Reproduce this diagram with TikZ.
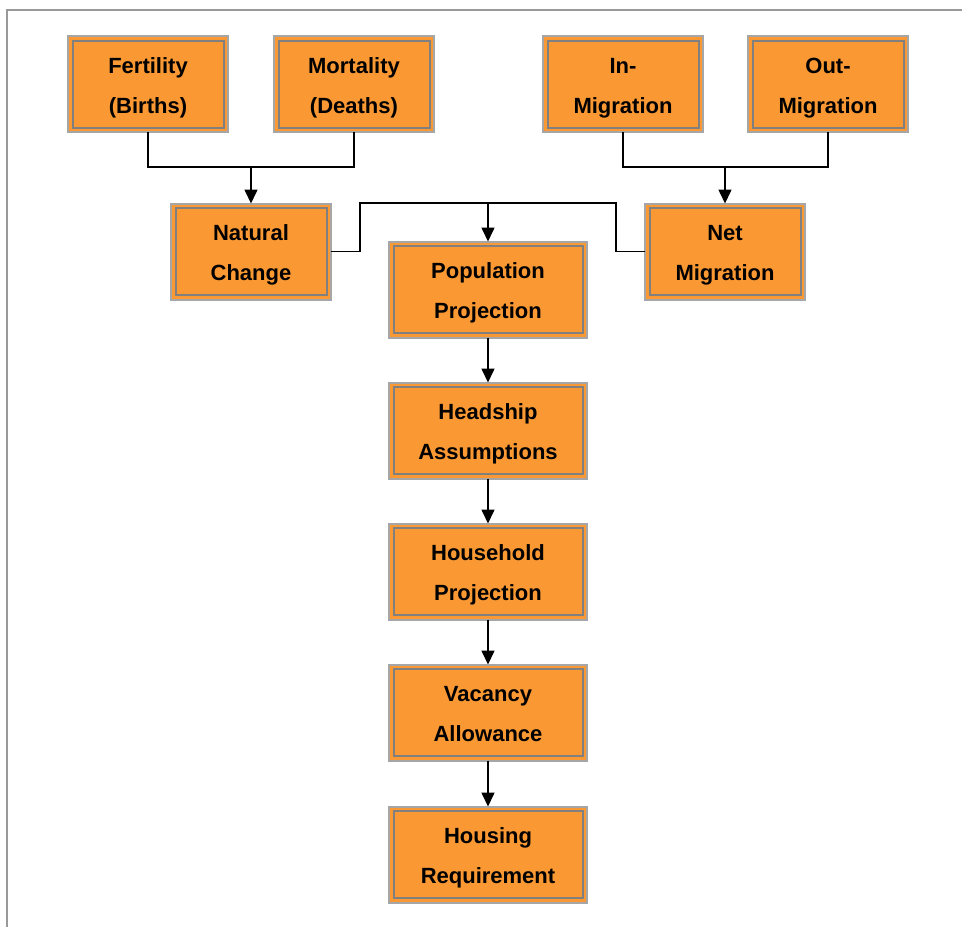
\documentclass[tikz,border=0pt]{standalone}
\usepackage{fontspec}
\setmainfont{Liberation Sans}
\usetikzlibrary{arrows.meta}
\definecolor{boxfill}{HTML}{FA9933}
\definecolor{outerline}{HTML}{A6A6A6}
\definecolor{innerline}{HTML}{808080}
\definecolor{frameline}{HTML}{999999}
\begin{document}
\begin{tikzpicture}[x=1pt,y=1pt,
  flowbox/.style={rectangle, fill=boxfill, draw=outerline, line width=2pt,
    inner sep=0pt, outer sep=0pt, minimum width=#1, minimum height=96pt,
    text height=61pt, text depth=3pt,
    align=center, font=\fontsize{22}{40}\selectfont\bfseries},
  flowbox/.default=160pt,
  conn/.style={draw=black, line width=1.6pt},
  arr/.style={conn, -{Triangle[width=13pt,length=14pt]}}]
\useasboundingbox (0,0) rectangle (962,-927);
\draw[frameline, line width=2.2pt] (7,-927) -- (7,-10) -- (962,-10);

\node[flowbox] (fert) at (148,-84) {Fertility\\(Births)};
\node[flowbox] (mort) at (354,-84) {Mortality\\(Deaths)};
\node[flowbox] (inm) at (623,-84) {In-\\Migration};
\node[flowbox] (outm) at (828,-84) {Out-\\Migration};
\node[flowbox] (nat) at (251,-251.5) {Natural\\Change};
\node[flowbox] (net) at (725,-251.5) {Net\\Migration};
\node[flowbox=198pt] (pop) at (488,-289.5) {Population\\Projection};
\node[flowbox=198pt] (head) at (488,-430.5) {Headship\\Assumptions};
\node[flowbox=198pt] (hh) at (488,-571.5) {Household\\Projection};
\node[flowbox=198pt] (vac) at (488,-712.5) {Vacancy\\Allowance};
\node[flowbox=198pt] (hous) at (488,-854.5) {Housing\\Requirement};

\foreach \n in {fert,mort,inm,outm,nat,net,pop,head,hh,vac,hous}{
  \draw[innerline, line width=2pt] ([shift={(4.5pt,-4.5pt)}]\n.north west) rectangle ([shift={(-4.5pt,4.5pt)}]\n.south east);
}

\coordinate (j1) at (251,-167);
\coordinate (j2) at (725,-167);
\coordinate (j3) at (488,-203);
\coordinate (k1) at (360,-203);
\coordinate (k2) at (616,-203);

\draw[conn] (fert.south) |- (j1) -| (mort.south);
\draw[arr] (j1) -- (nat.north);
\draw[conn] (inm.south) |- (j2) -| (outm.south);
\draw[arr] (j2) -- (net.north);
\draw[conn] (nat.east) -| (k1) -- (k2) |- (net.west);
\draw[arr] (j3) -- (pop.north);
\draw[arr] (pop.south) -- (head.north);
\draw[arr] (head.south) -- (hh.north);
\draw[arr] (hh.south) -- (vac.north);
\draw[arr] (vac.south) -- (hous.north);
\end{tikzpicture}
\end{document}
